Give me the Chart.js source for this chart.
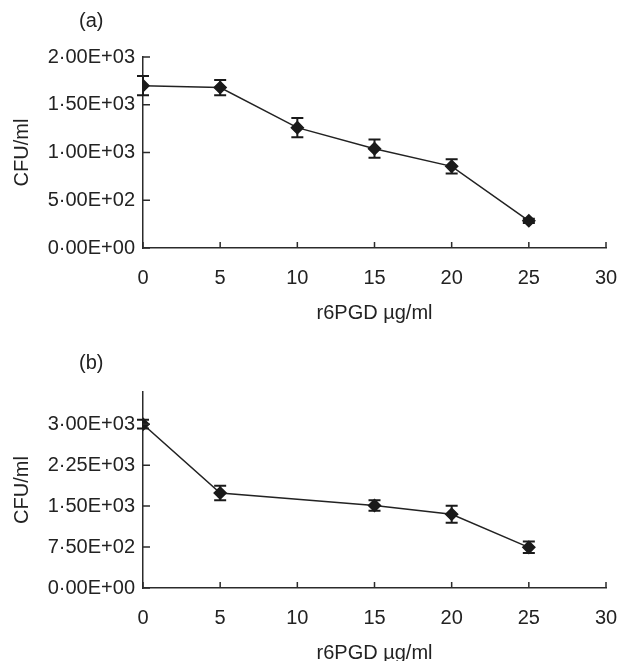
<!DOCTYPE html>
<html>
<head>
<meta charset="utf-8">
<script src="https://cdn.jsdelivr.net/npm/chart.js@4.4.0/dist/chart.umd.min.js"></script>
<style>
  html, body { margin: 0; padding: 0; background: #fff; overflow: hidden; }
  .panel { position: absolute; left: 0; width: 628px; }
</style>
</head>
<body>
<div class="panel" style="top:0px"><canvas id="chartA" width="628" height="330"></canvas></div>
<div class="panel" style="top:330px"><canvas id="chartB" width="628" height="340"></canvas></div>
<script>
// panel (a)
var doseA = [0, 5, 10, 15, 20, 25];
var cfuA = [1700, 1680, 1260, 1040, 855, 285];
var errA = [100, 80, 100, 95, 75, 22];
var yTicksA = [0, 500, 1000, 1500, 2000];

// panel (b) - no 10 ug/ml point
var doseB = [0, 5, 15, 20, 25];
var cfuB = [3000, 1740, 1510, 1350, 745];
var errB = [80, 135, 95, 155, 105];
var yTicksB = [0, 750, 1500, 2250, 3000];

var xTicks = [0, 5, 10, 15, 20, 25, 30];

var axisColor = '#2b2b2b';
var fontFamily = '"Liberation Sans", Arial, sans-serif';
var fontSize = 20;

// 2.00E+03 style, with a middle dot like the original
function sciLabel(v) {
    var parts = Number(v).toExponential(2).split('e');
    var exp = parseInt(parts[1], 10);
    var sign = exp < 0 ? '-' : '+';
    var e = Math.abs(exp);
    return parts[0].replace('.', '\u00b7') + 'E' + sign + (e < 10 ? '0' + e : e);
}

function fixedTicks(list) {
    return function(s) { s.ticks = list.map(function(v) { return { value: v }; }); };
}

var inwardTicks = {
    id: 'inwardTicks',
    afterDraw: function(chart) {
        var ctx = chart.ctx, xs = chart.scales.x, ys = chart.scales.y;
        ctx.save();
        ctx.strokeStyle = axisColor;
        ctx.lineWidth = 1.5;
        ctx.beginPath();
        xs.ticks.forEach(function(t) {
            var px = xs.getPixelForValue(t.value);
            ctx.moveTo(px, xs.top);
            ctx.lineTo(px, xs.top - 6);
        });
        ys.ticks.forEach(function(t) {
            var py = ys.getPixelForValue(t.value);
            ctx.moveTo(ys.right, py);
            ctx.lineTo(ys.right + 7, py);
        });
        ctx.stroke();
        ctx.restore();
    }
};

var errorBars = {
    id: 'errorBars',
    afterDatasetsDraw: function(chart) {
        var ctx = chart.ctx, ys = chart.scales.y;
        ctx.save();
        ctx.strokeStyle = '#1a1a1a';
        ctx.lineWidth = 2;
        chart.data.datasets.forEach(function(ds, di) {
            var meta = chart.getDatasetMeta(di);
            meta.data.forEach(function(pt, i) {
                var v = ds.data[i].y, e = ds.errors[i];
                var top = ys.getPixelForValue(v + e), bot = ys.getPixelForValue(v - e);
                ctx.beginPath();
                ctx.moveTo(pt.x, top); ctx.lineTo(pt.x, bot);
                ctx.moveTo(pt.x - 6, top); ctx.lineTo(pt.x + 6, top);
                ctx.moveTo(pt.x - 6, bot); ctx.lineTo(pt.x + 6, bot);
                ctx.stroke();
            });
        });
        ctx.restore();
    }
};

var panelLabel = {
    id: 'panelLabel',
    afterDraw: function(chart, args, opts) {
        var ctx = chart.ctx;
        ctx.save();
        ctx.fillStyle = '#222';
        ctx.font = fontSize + 'px ' + fontFamily;
        ctx.textBaseline = 'middle';
        ctx.fillText(opts.text, opts.x, opts.y);
        ctx.restore();
    }
};

function makeChart(id, xs, ys, errs, yMax, yTicks, padTop, label, labelY) {
    var pts = xs.map(function(x, i) { return { x: x, y: ys[i] }; });
    return new Chart(document.getElementById(id), {
        type: 'line',
        data: {
            datasets: [{
                data: pts,
                errors: errs,
                borderColor: '#222',
                borderWidth: 1.5,
                pointStyle: 'rectRot',
                pointRadius: 6,
                pointBackgroundColor: '#1a1a1a',
                pointBorderColor: '#1a1a1a',
                tension: 0
            }]
        },
        options: {
            responsive: false,
            animation: false,
            layout: { padding: { top: padTop, right: 22, bottom: 0, left: 0 } },
            plugins: {
                legend: { display: false },
                tooltip: { enabled: false },
                panelLabel: { text: label, x: 79, y: labelY }
            },
            scales: {
                x: {
                    type: 'linear',
                    min: 0,
                    max: 30,
                    afterBuildTicks: fixedTicks(xTicks),
                    afterFit: function(s) { s.height = 82; s.paddingLeft = 0; s.paddingRight = 0; },
                    grid: { display: false, drawTicks: false },
                    border: { display: true, color: axisColor, width: 1.5 },
                    ticks: { color: '#222', padding: 18, maxRotation: 0, font: { family: fontFamily, size: fontSize } },
                    title: {
                        display: true,
                        text: 'r6PGD \u00b5g/ml',
                        color: '#222',
                        padding: { top: 5, bottom: 5 },
                        font: { family: fontFamily, size: fontSize }
                    }
                },
                y: {
                    min: 0,
                    max: yMax,
                    afterBuildTicks: fixedTicks(yTicks),
                    afterFit: function(s) { s.width = 143; },
                    grid: { display: false, drawTicks: false },
                    border: { display: true, color: axisColor, width: 1.5 },
                    ticks: {
                        color: '#222',
                        padding: 8,
                        font: { family: fontFamily, size: fontSize },
                        callback: function(v) { return sciLabel(v); }
                    },
                    title: {
                        display: true,
                        text: 'CFU/ml',
                        color: '#222',
                        padding: { top: 10, bottom: 0 },
                        font: { family: fontFamily, size: fontSize }
                    }
                }
            }
        },
        plugins: [inwardTicks, errorBars, panelLabel]
    });
}

makeChart('chartA', doseA, cfuA, errA, 2000, yTicksA, 57, '(a)', 21);
makeChart('chartB', doseB, cfuB, errB, 3590, yTicksB, 62, '(b)', 33);
</script>
</body>
</html>
